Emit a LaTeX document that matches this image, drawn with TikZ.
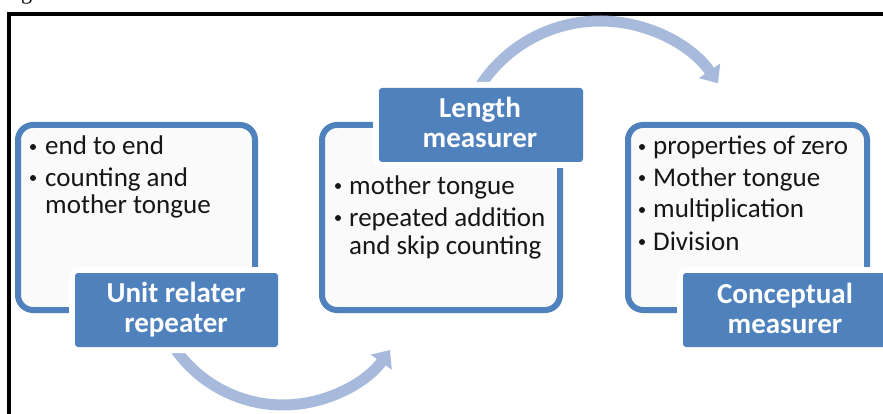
\documentclass[tikz,border=0pt]{standalone}
\usepackage{fontspec}
\setmainfont{Carlito}
\newfontfamily\captionserif{Liberation Serif}
\usetikzlibrary{arrows.meta}

\definecolor{accent}{RGB}{79,129,189}
\definecolor{flowarc}{RGB}{167,186,219}
\definecolor{bodyink}{RGB}{22,22,22}

\begin{document}
\begin{tikzpicture}[x=1pt,y=-1pt,
  panel/.style={draw=accent, line width=6pt, rounded corners=15pt,
    fill=white!98!black, inner sep=0pt},
  tag/.style={fill=accent, rounded corners=3pt, inner sep=0pt,
    preaction={draw=white, line width=12pt}},
  tagtext/.style={text=white, align=center, inner sep=0pt,
    font=\bfseries\fontsize{29}{30}\selectfont},
  item/.style={text=bodyink, anchor=base west, inner sep=0pt, align=left,
    font=\fontsize{27}{28}\selectfont},
  dot/.style={fill=bodyink},
  flow/.style={draw=flowarc, line width=11pt,
    -{Triangle[width=25pt,length=15pt]}},
]
\useasboundingbox (0,0) rectangle (883,414);

% caption fragment above the frame
\node[anchor=base west, inner sep=0pt, font=\captionserif\fontsize{22}{22}\selectfont]
  (cap) at (21,0) {g};

% frame
\draw[line width=4pt, line join=miter] (9,420) -- (9,14) -- (890,14);

% the three panels
\node[panel, minimum width=237pt, minimum height=185pt] (p1) at (136.5,217.5) {};
\node[panel, minimum width=238pt, minimum height=185pt] (p2) at (441,217.5) {};
\node[panel, minimum width=239pt, minimum height=185pt] (p3) at (747.5,217.5) {};

% flow arcs between the stages
\coordinate (a1) at (176,350);
\coordinate (a2) at ({600+143*cos(212)},{164+143*sin(212)});
\draw[flow] (a1) arc[start angle=144.4, end angle=35.6, radius=131.6];
\draw[flow] (a2) arc[start angle=212, end angle=325.6, radius=143];

% stage tags (multi-line text is anchored at the baseline of its last line)
\node[tag, minimum width=203pt, minimum height=74pt] (t1) at (176.5,310) {};
\node[tag, minimum width=204pt, minimum height=74pt] (t2) at (481,125) {};
\node[tag, minimum width=203pt, minimum height=74pt] (t3) at (784.5,310) {};
\node[tagtext, anchor=base] (t1a) at (176,332) {Unit relater\\repeater};
\node[tagtext, anchor=base] (t2a) at (480,148) {Length\\measurer};
\node[tagtext, anchor=base] (t3a) at (785,333) {Conceptual\\measurer};

% panel 1 items
\fill[dot] (33,147) circle (3pt);
\node[item] (i11) at (45,155) {end to end};
\fill[dot] (33,178) circle (3pt);
\node[item] (i12) at (45,214) {counting and\\mother tongue};

% panel 2 items
\fill[dot] (338,186) circle (3pt);
\node[item] (i21) at (349,194) {mother tongue};
\fill[dot] (338,218) circle (3pt);
\node[item] (i22) at (349,254) {repeated addition\\and skip counting};

% panel 3 items
\fill[dot] (642,147) circle (3pt);
\node[item] (i31) at (653,155) {properties of zero};
\fill[dot] (642,178) circle (3pt);
\node[item] (i32) at (653,186) {Mother tongue};
\fill[dot] (642,210) circle (3pt);
\node[item] (i33) at (653,218) {multiplication};
\fill[dot] (642,242) circle (3pt);
\node[item] (i34) at (653,250) {Division};
\end{tikzpicture}
\end{document}
